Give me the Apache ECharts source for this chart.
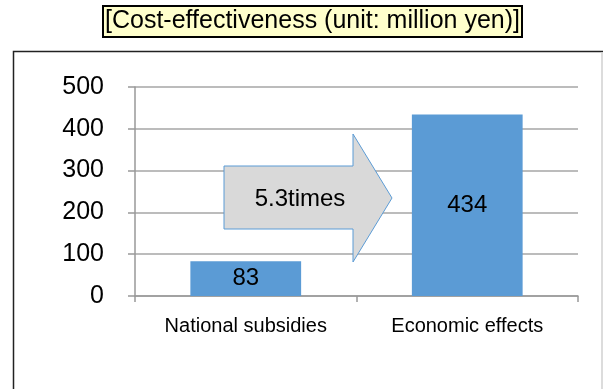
<!DOCTYPE html>
<html lang="en">
<head>
    <meta charset="UTF-8">
    <title>Cost-effectiveness</title>
    <script src="https://cdn.jsdelivr.net/npm/echarts@6/dist/echarts.min.js"></script>
    <style type="text/css">
        html, body { height: 100%; margin: 0; background: #fff; }
        #main { width: 603px; height: 389px; margin: 0; }
    </style>
</head>
<body>
    <div id="main"></div>
    <script type="text/javascript">
        // chart data
        var categories = ['National subsidies', 'Economic effects'];
        var values = [83, 434];
        var yTicks = [0, 100, 200, 300, 400, 500];
        var ratioText = '5.3times';

        var FONT = '"Liberation Sans", Arial, sans-serif';
        var chart = echarts.init(document.getElementById('main'));

        var option = {
            animation: false,
            title: {
                text: '[Cost-effectiveness (unit: million yen)]',
                left: 103,
                top: 6,
                padding: [3, 2, 3, 2],
                backgroundColor: '#FFFFCC',
                borderColor: '#000',
                borderWidth: 2,
                textStyle: { fontFamily: FONT, fontSize: 25, fontWeight: 'normal', color: '#000' }
            },
            grid: { left: 135, right: 25, top: 87, bottom: 93 },
            xAxis: {
                type: 'category',
                data: categories,
                axisLine: { lineStyle: { color: '#999', width: 1.5 } },
                axisTick: { show: true, length: 6, lineStyle: { color: '#999', width: 1.5 } },
                axisLabel: { margin: 20, fontFamily: FONT, fontSize: 20, color: '#000' }
            },
            yAxis: {
                type: 'value',
                min: yTicks[0],
                max: yTicks[yTicks.length - 1],
                interval: 100,
                axisLine: { show: true, lineStyle: { color: '#999', width: 1.5 } },
                axisTick: { show: true, length: 7, lineStyle: { color: '#999', width: 1.5 } },
                splitLine: { lineStyle: { color: '#a6a6a6', width: 1.5 } },
                axisLabel: { margin: 31, fontFamily: FONT, fontSize: 25, color: '#000' }
            },
            series: [{
                type: 'bar',
                data: values,
                barWidth: '50%',
                itemStyle: { color: '#5B9BD5' },
                label: {
                    show: true,
                    position: 'inside',
                    fontFamily: FONT,
                    fontSize: 24,
                    color: '#000'
                }
            }],
            graphic: [
                // outer frame
                {
                    type: 'rect',
                    shape: { x: 13.5, y: 51.5, width: 600, height: 400 },
                    style: { fill: 'none', stroke: '#222', lineWidth: 1.5 },
                    silent: true
                },
                {
                    type: 'line',
                    shape: { x1: 602, y1: 52, x2: 602, y2: 389 },
                    style: { stroke: '#d0d0d0', lineWidth: 1.5 },
                    silent: true
                },
                // ratio arrow
                {
                    type: 'polygon',
                    shape: {
                        points: [[224, 166], [353, 166], [353, 134], [392, 198],
                                 [353, 262], [353, 229], [224, 229]]
                    },
                    style: { fill: '#D9D9D9', stroke: '#5B9BD5', lineWidth: 1 },
                    z: 10
                },
                {
                    type: 'text',
                    x: 300,
                    y: 199,
                    style: {
                        text: ratioText,
                        font: '24px ' + FONT,
                        fill: '#000',
                        align: 'center',
                        verticalAlign: 'middle'
                    },
                    z: 11
                }
            ]
        };
        chart.setOption(option);
    </script>
</body>
</html>
